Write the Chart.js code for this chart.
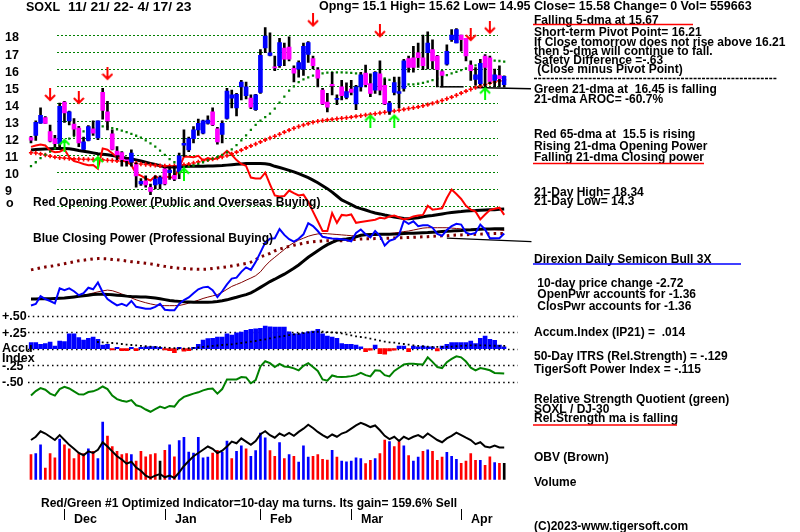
<!DOCTYPE html>
<html>
<head>
<meta charset="utf-8">
<script src="https://cdn.jsdelivr.net/npm/chart.js@4.4.0/dist/chart.umd.min.js"></script>
<style>
  html, body { margin: 0; padding: 0; background: #fff; }
  #wrap { width: 800px; height: 532px; }
</style>
</head>
<body>
<div id="wrap"><canvas id="chart" width="800" height="532"></canvas></div>
<script>
// SOXL 11/21/22 - 4/17/23, one entry per trading day (100 days)
const opens = [
  12.0, 12.13, 12.85, 13.17, 12.36, 11.94, 11.65, 14.08, 12.98, 12.79,
  12.56, 11.31, 11.84, 12.51, 11.98, 14.65, 13.51, 12.22, 11.22, 11.13,
  10.7, 10.56, 10.42, 9.3, 9.48, 9.1, 9.23, 9.29, 10.18, 9.95,
  9.8, 9.99, 11.56, 11.28, 11.94, 12.45, 12.26, 12.83, 13.51, 12.51,
  12.19, 13.13, 14.31, 13.74, 14.97, 14.46, 14.31, 13.64, 14.65, 17.24,
  16.81, 16.14, 16.2, 17.24, 17.3, 16.05, 16.0, 16.0, 16.86, 16.62,
  15.97, 14.78, 14.08, 15.12, 14.23, 14.97, 14.35, 14.84, 13.97, 14.97,
  15.77, 15.16, 14.78, 15.73, 15.06, 13.55, 14.65, 14.59, 14.88, 16.62,
  16.67, 16.96, 16.67, 16.96, 17.15, 16.77, 15.86, 16.3, 17.72, 17.53,
  18.0, 17.81, 16.24, 15.41, 15.16, 16.77, 16.67, 15.35, 15.63, 15.1
];
const closes = [
  11.85, 12.89, 13.3, 12.83, 11.79, 11.65, 13.83, 13.45, 13.51, 12.5,
  11.69, 11.75, 12.64, 12.26, 12.98, 13.59, 12.98, 11.31, 10.99, 10.71,
  10.65, 11.09, 9.76, 9.45, 9.23, 8.85, 9.57, 9.67, 9.29, 10.1,
  9.57, 10.94, 11.66, 11.94, 12.45, 12.83, 12.98, 13.02, 12.75, 11.75,
  12.83, 14.72, 14.5, 14.53, 15.25, 14.97, 13.78, 14.5, 16.81, 17.94,
  16.96, 16.07, 17.56, 16.58, 16.58, 15.77, 16.39, 17.34, 17.56, 16.2,
  15.48, 13.97, 13.78, 15.03, 14.3, 14.46, 14.69, 14.65, 14.97, 15.67,
  15.1, 14.59, 15.82, 14.78, 13.97, 14.02, 15.22, 14.69, 16.49, 16.1,
  16.1, 16.67, 16.2, 17.53, 16.49, 15.97, 15.63, 17.05, 18.0, 18.32,
  17.72, 16.77, 15.92, 15.67, 16.35, 16.1, 15.29, 15.67, 15.44, 15.58
];
const highs = [
  12.07, 12.98, 13.74, 13.23, 12.73, 12.13, 14.02, 14.12, 13.55, 13.11,
  12.66, 12.03, 12.7, 12.98, 12.98, 14.88, 14.12, 12.45, 11.47, 11.18,
  10.75, 11.28, 10.52, 9.6, 9.76, 9.29, 9.76, 9.76, 10.23, 10.3,
  10.33, 11.1, 12.45, 12.03, 12.64, 13.08, 13.02, 13.27, 13.74, 12.6,
  12.98, 14.88, 14.78, 14.59, 15.35, 15.25, 14.5, 14.53, 17.15, 18.44,
  18.13, 16.77, 17.8, 17.53, 17.9, 16.2, 16.49, 17.53, 17.62, 16.77,
  16.1, 14.88, 14.59, 15.82, 14.5, 15.35, 15.2, 15.35, 15.06, 15.82,
  16.24, 15.73, 15.86, 16.49, 15.44, 14.12, 15.54, 15.54, 16.58, 16.77,
  17.34, 17.53, 18.0, 18.19, 17.72, 16.81, 15.92, 17.43, 18.32, 18.38,
  18.0, 17.81, 16.49, 16.1, 16.58, 16.86, 16.77, 16.01, 16.2, 15.62
];
const lows = [
  11.69, 11.84, 12.83, 12.83, 11.75, 11.47, 11.47, 12.89, 12.75, 12.13,
  11.47, 11.28, 11.81, 12.13, 11.88, 13.08, 12.45, 11.28, 10.71, 10.33,
  10.33, 10.33, 9.1, 9.2, 9.1, 8.66, 9.0, 9.0, 9.23, 9.55,
  9.48, 9.6, 10.9, 11.18, 11.69, 12.13, 12.22, 12.79, 12.7, 11.62,
  11.69, 13.08, 13.74, 13.27, 14.21, 14.27, 13.7, 13.59, 14.59, 16.96,
  16.77, 15.92, 16.1, 16.2, 16.49, 15.25, 15.54, 15.63, 16.39, 16.01,
  14.97, 13.93, 13.51, 14.5, 13.93, 14.21, 14.27, 14.5, 13.64, 14.72,
  14.97, 14.4, 14.59, 14.5, 13.93, 13.36, 14.5, 13.74, 14.72, 15.82,
  15.82, 16.1, 15.97, 16.01, 16.01, 14.97, 14.97, 16.24, 17.62, 17.53,
  17.05, 16.49, 15.35, 15.06, 15.06, 14.97, 15.16, 14.97, 14.97, 14.95
];
const ma21 = [
  10.33, 10.56, 10.8, 11.0, 11.18, 11.37, 11.56, 11.75, 11.94, 12.09,
  12.22, 12.36, 12.47, 12.56, 12.62, 12.66, 12.64, 12.56, 12.49, 12.41,
  12.32, 12.22, 12.11, 12.0, 11.84, 11.66, 11.47, 11.24, 10.99, 10.75,
  10.56, 10.39, 10.29, 10.29, 10.37, 10.46, 10.56, 10.67, 10.77, 10.86,
  10.99, 11.14, 11.31, 11.56, 11.84, 12.13, 12.45, 12.75, 13.0, 13.2,
  13.4, 13.7, 14.05, 14.4, 14.75, 15.0, 15.25, 15.4, 15.52, 15.62,
  15.7, 15.76, 15.8, 15.82, 15.82, 15.82, 15.8, 15.78, 15.76, 15.72,
  15.68, 15.63, 15.58, 15.52, 15.46, 15.38, 15.3, 15.22, 15.15, 15.12,
  15.12, 15.15, 15.2, 15.28, 15.36, 15.45, 15.55, 15.65, 15.75, 15.85,
  15.95, 16.05, 16.15, 16.22, 16.3, 16.38, 16.45, 16.5, 16.48, 16.45
];
const ma65 = [
  11.12, 11.1, 11.05, 10.98, 10.92, 10.86, 10.82, 10.8, 10.78, 10.76,
  10.75, 10.74, 10.73, 10.72, 10.71, 10.7, 10.68, 10.66, 10.64, 10.62,
  10.6, 10.57, 10.5, 10.46, 10.43, 10.4, 10.38, 10.36, 10.35, 10.35,
  10.36, 10.38, 10.41, 10.45, 10.52, 10.58, 10.65, 10.7, 10.75, 10.8,
  10.87, 10.95, 11.05, 11.15, 11.27, 11.4, 11.52, 11.63, 11.75, 11.87,
  11.98, 12.08, 12.2, 12.32, 12.44, 12.55, 12.65, 12.74, 12.82, 12.9,
  12.96, 13.0, 13.04, 13.07, 13.1, 13.13, 13.16, 13.2, 13.24, 13.28,
  13.32, 13.36, 13.4, 13.44, 13.48, 13.52, 13.56, 13.6, 13.65, 13.7,
  13.75, 13.8, 13.86, 13.93, 14.0, 14.08, 14.17, 14.27, 14.37, 14.48,
  14.6, 14.72, 14.83, 14.93, 15.02, 15.1, 15.18, 15.25, 15.32, 15.38
];
const sellArrowDay = [4, 10, 16, 59, 73, 92, 96];
const sellArrowAt = [14.49, 14.32, 15.73, 18.85, 18.22, 18.0, 18.43];
const buyArrowDay = [7, 14, 32, 71, 76, 95];
const buyArrowAt = [11.58, 10.57, 9.9, 13.0, 13.0, 14.59];
const supportDays = [[85.5, 90.5], [92.5, 104.6]];
const supportLevels = [[14.97, 14.97], [14.93, 14.86]];

// opening / closing power panel (unlabelled units)
const openPower = [
  88.3, 89, 89.5, 89, 86.5, 85.5, 85.8, 87, 83, 81,
  80.3, 79.5, 78.8, 79, 77, 87.5, 86.8, 85, 83, 81.7,
  80.5, 79, 74.5, 73.5, 72, 71, 73.3, 71.7, 73, 72.7,
  72.5, 77.5, 83.3, 83.2, 83, 83.7, 81.3, 82.5, 81.8, 82.5,
  84, 86.3, 84.2, 81.5, 79.5, 78.5, 72.5, 72, 72, 75,
  69, 63.3, 62.8, 63, 65.8, 64.5, 63.3, 63.7, 60, 55,
  50, 45, 45, 54.2, 49.2, 53.3, 53, 53.5, 49.2, 49.6,
  50, 50.4, 50.8, 51.8, 51.5, 52.5, 53, 52, 51, 51.5,
  52.5, 53, 53.3, 58, 56, 56.3, 56.7, 62, 66.3, 64,
  61.5, 58, 56, 55, 51, 53.5, 55.8, 56.5, 57, 53.3
];
const closePower = [
  6.7, 7.5, 11.5, 10, 9, 7.8, 15.5, 14.5, 15.5, 14,
  12, 13, 15.8, 15, 18.5, 13.5, 10, 8.3, 6.7, 7.5,
  6.5, 9, 6, 5.5, 5, 5, 6, 7.5, 4.5, 4.2,
  4.2, 7.5, 9.5, 10.8, 13, 15, 16, 16.3, 14.5, 11,
  14, 17.5, 20.5, 21, 24, 26.3, 25, 29, 34, 39,
  41, 41.3, 46, 43, 40.8, 39.5, 41, 43.3, 49, 47.5,
  45, 42, 41.5, 41.2, 41, 40.8, 40.4, 39.7, 44, 45.8,
  43.3, 41.7, 45, 42.5, 37.5, 40, 40.8, 43, 50.3, 48.7,
  50, 47.5, 48, 48, 46.7, 43.5, 42.5, 45.5, 47.5, 48.7,
  48.3, 44.2, 43.3, 44, 48.3, 45.8, 41.3, 41.3, 41.3, 43.7
];
const openPowerMa = [
  86.7, 86.9, 87.1, 87.2, 87.3, 87.4, 87.5, 87.5, 87.3, 86.9,
  86.4, 86, 85.6, 85.2, 84.8, 84.5, 84.2, 83.9, 83.5, 83,
  82.5, 82.1, 81.6, 81, 80.4, 79.8, 79.2, 78.6, 78.1, 78,
  78, 78, 78.2, 78.3, 78.3, 78.3, 78.3, 78.4, 78.5, 78.6,
  78.7, 78.9, 79.1, 79.3, 79.5, 79.7, 79.7, 79.7, 79.7, 79.6,
  79.2, 78.3, 77.7, 77, 76.2, 75.4, 74.5, 73.5, 72.5, 71.2,
  69.8, 68.3, 66.8, 65, 63, 61, 59.8, 58.6, 57.3, 56.5,
  55.8, 55, 54.3, 53.8, 53.2, 52.7, 52.2, 51.8, 51.4, 51.3,
  51.5, 51.8, 52.3, 52.7, 53, 53.4, 53.8, 54.2, 54.5, 54.8,
  55, 55.3, 55.4, 55.5, 55.7, 55.8, 55.9, 56, 56.2, 56.3
];
const closePowerMa = [
  10, 10, 10.1, 10.1, 10.2, 10.3, 10.4, 10.5, 10.8, 11.1,
  11.4, 11.7, 12, 12.3, 12.5, 12.5, 12.4, 12.2, 12, 11.8,
  11.5, 11.3, 11.2, 11.1, 11, 10.8, 10.5, 10.1, 9.7, 9.3,
  9, 8.8, 8.6, 8.5, 8.4, 8.3, 8.3, 8.4, 8.5, 8.7,
  9.1, 9.6, 10.3, 10.9, 11.6, 12.3, 13.2, 14.5, 16, 17.5,
  19, 20.2, 21.5, 22.8, 24.3, 25.8, 27.5, 29.5, 31.5, 33.2,
  34.9, 36.5, 38, 39.2, 40.2, 40.6, 40.9, 41.3, 42, 42.8,
  43.1, 43.2, 43.2, 43.3, 43.3, 43.3, 43.4, 43.5, 43.7, 43.8,
  43.9, 44, 44.1, 44.2, 44.4, 44.5, 44.7, 44.9, 45, 45.2,
  45.3, 45.5, 45.6, 45.8, 45.9, 46, 46.1, 46.2, 46.2, 46.2
];
const closePowerMa21 = [
  9.7, 9.8, 9.9, 10, 10.1, 10.3, 10.5, 10.7, 11, 11.2,
  11.5, 11.9, 12.5, 13.1, 13.7, 14.2, 14.6, 14.3, 13.5, 12.6,
  11.6, 10.6, 9.6, 8.8, 8.1, 7.5, 7, 6.7, 6.6, 6.6,
  6.6, 6.7, 7.2, 7.9, 8.6, 9.4, 10.3, 11, 11.6, 12.3,
  13.5, 15, 16.5, 17.5, 18.5, 19.7, 20.8, 22, 24, 27,
  29.5, 31.5, 33.5, 35.5, 37.5, 39, 40.3, 41.3, 42.3, 43,
  43.5, 43.7, 43.6, 43.4, 43.2, 43, 42.8, 42.6, 42.5, 42.6,
  42.8, 43, 43.2, 43.4, 43.6, 43.7, 44, 44.3, 44.7, 45,
  45.5, 46, 46.5, 46.7, 46.7, 46.7, 46.7, 46.7, 46.5, 46.3,
  46.1, 45.9, 45.8, 45.8, 45.8, 45.8, 45.7, 45.6, 45.5, 45.3
];
const closePowerMa65 = [
  25, 25.5, 26, 26.5, 26.8, 27.2, 27.7, 28.2, 28.7, 29.2,
  29.7, 30, 30.3, 30.6, 30.8, 30.8, 30.7, 30.4, 30.2, 29.9,
  29.6, 29.2, 29, 28.7, 28.4, 28.1, 27.7, 27.2, 26.8, 26.4,
  26.1, 25.9, 25.7, 25.5, 25.4, 25.3, 25.3, 25.4, 25.7, 26,
  26.3, 26.6, 27, 27.4, 27.8, 28.3, 29, 30.2, 31.7, 32.5,
  33.5, 34.8, 35.7, 36.4, 37.1, 37.7, 38.2, 38.7, 39.2, 39.5,
  39.7, 39.9, 40, 40, 40, 40, 40.2, 40.5, 40.7, 40.9,
  41, 41, 41.1, 41.1, 41.2, 41.3, 41.4, 41.5, 41.6, 41.7,
  41.8, 41.9, 42, 42.1, 42.3, 42.4, 42.5, 42.6, 42.8, 42.9,
  43, 43.1, 43.2, 43.3, 43.4, 43.5, 43.6, 43.7, 43.7, 43.7
];
const powerTrendDays = [87, 104.7];
const powerTrendLevels = [41.3, 39.5];

// accumulation index (IP21) and its moving average
const accum = [
  0.09, 0.09, 0.065, 0.075, 0.1, 0.04, 0.115, 0.105, 0.225, 0.225,
  0.165, 0.13, 0.155, 0.175, 0.14, 0.055, 0.065, -0.02, 0.02, -0.03,
  -0.03, 0.02, -0.03, 0.02, 0.025, 0.03, 0.03, 0.02, -0.02, -0.03,
  -0.06, 0.02, -0.04, -0.03, 0.02, 0.065, 0.13, 0.15, 0.155, 0.175,
  0.175, 0.225, 0.205, 0.24, 0.25, 0.275, 0.29, 0.3, 0.305, 0.34,
  0.33, 0.325, 0.325, 0.325, 0.255, 0.225, 0.225, 0.24, 0.255, 0.265,
  0.29, 0.225, 0.19, 0.175, 0.155, 0.075, 0.065, 0.065, 0.055, 0.025,
  -0.045, -0.025, 0.055, -0.075, -0.085, -0.035, -0.025, 0.04, 0.04, -0.045,
  0.04, 0.025, 0.04, 0.025, 0.025, -0.035, 0.04, 0.065, 0.09, 0.09,
  0.09, 0.09, 0.115, 0.075, 0.155, 0.19, 0.14, 0.125, 0.055, 0.025
];
const accumMa = [
  null, null, null, null, null, null, null, null, null, null,
  null, null, null, null, 0.1, 0.095, 0.09, 0.085, 0.08, 0.07,
  0.06, 0.055, 0.048, 0.042, 0.036, 0.03, 0.025, 0.02, 0.015, 0.01,
  0.006, 0.003, 0, 0.005, 0.01, 0.016, 0.025, 0.032, 0.04, 0.047,
  0.055, 0.06, 0.065, 0.075, 0.085, 0.095, 0.105, 0.115, 0.13, 0.14,
  0.155, 0.17, 0.18, 0.19, 0.205, 0.215, 0.225, 0.235, 0.245, 0.25,
  0.255, 0.255, 0.25, 0.245, 0.24, 0.23, 0.215, 0.2, 0.185, 0.175,
  0.165, 0.15, 0.135, 0.12, 0.105, 0.095, 0.09, 0.08, 0.07, 0.06,
  0.05, 0.04, 0.035, 0.03, 0.027, 0.025, 0.025, 0.025, 0.03, 0.035,
  0.04, 0.045, 0.048, 0.05, 0.05, 0.048, 0.045, 0.043, 0.04, 0.04
];
const accumTicks = [0.5, 0.25, -0.25, -0.5];
const accumTickText = ['+.50', '+.25', '-.25', '-.50'];

// relative strength quotient SOXL / DJ-30
const relStrength = [
  1.32, 1.46, 1.55, 1.5, 1.38, 1.32, 1.52, 1.59, 1.54, 1.45,
  1.36, 1.35, 1.43, 1.45, 1.51, 1.6, 1.52, 1.32, 1.21, 1.16,
  1.13, 1.18, 1.02, 0.98, 0.89, 0.82, 0.9, 0.98, 0.93, 1.0,
  0.98, 1.17, 1.28, 1.33, 1.38, 1.42, 1.48, 1.52, 1.54, 1.38,
  1.52, 1.82, 1.82, 1.82, 1.89, 1.88, 1.7, 1.8, 2.22, 2.38,
  2.32, 2.2, 2.3, 2.22, 2.2, 2.16, 2.1, 2.24, 2.32, 2.2,
  2.08, 1.82, 1.78, 1.94, 1.9, 1.89, 1.9, 1.92, 1.95, 2.02,
  1.95, 1.91, 2.1, 2.09, 1.95, 1.91, 2.08, 2.18, 2.28, 2.3,
  2.3, 2.29, 2.28, 2.5, 2.36, 2.2, 2.17, 2.35, 2.45, 2.53,
  2.5, 2.37, 2.18, 2.1, 2.17, 2.14, 2.1, 2.02, 2.01, 2.0
];

// on-balance volume and volume (thousands)
const obv = [
  1366, 1478, 1669, 1590, 1478, 1366, 1534, 1366, 1198, 1064,
  918, 840, 974, 918, 1030, 1288, 1142, 974, 806, 694,
  549, 616, 414, 302, 134, 56, 134, 190, 78, 134,
  56, 246, 470, 638, 806, 918, 1030, 1142, 1064, 918,
  997, 1142, 1310, 1254, 1422, 1310, 1198, 1333, 1568, 1669,
  1534, 1445, 1590, 1512, 1613, 1512, 1646, 1758, 1893, 1781,
  1646, 1534, 1445, 1557, 1478, 1590, 1646, 1758, 1870, 1960,
  1893, 1814, 1870, 1702, 1512, 1400, 1478, 1333, 1478, 1400,
  1478, 1534, 1445, 1590, 1478, 1366, 1288, 1422, 1512, 1624,
  1534, 1445, 1366, 1221, 1288, 1142, 1109, 1176, 1109, 1109
];
const volume = [
  862, 896, 1198, 392, 896, 750, 1400, 1198, 1064, 728,
  896, 896, 1064, 974, 728, 1982, 1501, 1142, 974, 862,
  896, 862, 638, 974, 784, 862, 896, 638, 1008, 1198,
  784, 1344, 1456, 952, 918, 1456, 750, 773, 918, 1008,
  952, 1333, 728, 974, 1165, 1064, 806, 997, 1602, 1445,
  997, 806, 1277, 728, 862, 806, 605, 1165, 773, 806,
  862, 694, 672, 1008, 773, 638, 616, 638, 750, 728,
  549, 661, 728, 896, 1366, 1310, 1142, 1310, 1165, 829,
  638, 773, 974, 1030, 974, 661, 773, 941, 806, 694,
  560, 638, 896, 661, 661, 493, 784, 582, 560, 560
];
const volumeSide = [
  'r', 'b', 'b', 'r', 'r', 'r', 'b', 'r', 'r', 'r',
  'r', 'r', 'b', 'r', 'b', 'b', 'r', 'r', 'r', 'r',
  'r', 'b', 'r', 'r', 'r', 'r', 'r', 'k', 'r', 'b',
  'r', 'b', 'b', 'b', 'b', 'b', 'b', 'b', 'r', 'r',
  'b', 'b', 'r', 'b', 'b', 'r', 'b', 'b', 'b', 'b',
  'r', 'r', 'b', 'r', 'b', 'r', 'b', 'b', 'b', 'r',
  'r', 'r', 'r', 'b', 'r', 'b', 'b', 'b', 'b', 'b',
  'r', 'r', 'b', 'r', 'r', 'b', 'r', 'r', 'b', 'r',
  'b', 'b', 'r', 'b', 'r', 'r', 'r', 'b', 'b', 'b',
  'r', 'r', 'r', 'r', 'b', 'r', 'r', 'b', 'r', 'k'
];

const priceTicks = [9, 10, 11, 12, 13, 14, 15, 16, 17, 18];
const priceGrid = [8, 9, 10, 11, 12, 13, 14, 15, 16, 17, 18];
const monthNames = ['Dec', 'Jan', 'Feb', 'Mar', 'Apr'];
const monthStartDay = [7, 28, 48, 67, 90];

const FAMILY = '"Liberation Sans", Arial, sans-serif';
const sideColors = { r: '#ff0000', b: '#0000ff', k: '#000000' };

// [text, x, baseline, size, horizontal stretch]
const notes = [
  ['SOXL', 26, 11, 12.5, 1],
  ['11/ 21/ 22- 4/ 17/ 23', 68, 11, 12.5, 1.11],
  ['Opng= 15.1 High= 15.62 Low= 14.95 Close= 15.58 Change= 0 Vol= 559663', 319, 10, 12.5, 1],
  ['Falling 5-dma at 15.67', 534, 23.5],
  ['Short-term Pivot Point= 16.21', 534, 36],
  ['If Close tomorrow does not rise above 16.21', 534, 46],
  ['then 5-dma will continue to fall.', 534, 55],
  ['Safety Difference =-.63', 534, 64],
  [' (Close minus Pivot Point)', 534, 73],
  ['Green 21-dma at  16.45 is falling', 534, 92.5],
  ['21-dma AROC= -60.7%', 534, 102.5],
  ['Red 65-dma at  15.5 is rising', 534, 138],
  ['Rising 21-dma Opening Power', 534, 150],
  ['Falling 21-dma Closing power', 534, 161],
  ['21-Day High= 18.34', 534, 196],
  ['21-Day Low= 14.3', 534, 205],
  ['Direxion Daily Semicon Bull 3X', 534, 263],
  [' 10-day price change -2.72', 534, 286.5],
  [' OpenPwr accounts for -1.36', 534, 297.5],
  [' ClosPwr accounts for -1.36', 534, 310],
  ['Accum.Index (IP21) =  .014', 534, 336],
  ['50-Day ITRS (Rel.Strength) = -.129', 534, 360],
  ['TigerSoft Power Index = -.115', 534, 373],
  ['Relative Strength Quotient (green)', 534, 403],
  ['SOXL / DJ-30', 534, 412.5],
  ['Rel.Strength ma is falling', 534, 421.5],
  ['OBV (Brown)', 534, 460.5],
  ['Volume', 534, 486],
  ['(C)2023-www.tigersoft.com', 534, 530],
  ['Red Opening Power (Public and Overseas Buying)', 33, 206],
  ['Blue Closing Power (Professional Buying)', 33, 241.5],
  ['Red/Green #1 Optimized Indicator=10-day ma turns. Its gain= 159.6% Sell', 41, 506.5],
  ['o', 6, 206.5, 12.5, 1],
  ['Accu', 2, 351.5, 12.5, 1],
  ['Index', 2, 361.5, 12.5, 1]
];
const underlines = [
  [533, 693, 24.5, '#ff0000'],
  [533, 704, 163.5, '#ff0000'],
  [533, 741, 264, '#0000ff'],
  [533, 677, 425, '#ff0000']
];

function series(arr) {
  return arr.map((v, i) => ({ x: i, y: v }));
}

function arrowSprite(color, up) {
  const c = document.createElement('canvas');
  c.width = 12;
  c.height = 14;
  const g = c.getContext('2d');
  g.strokeStyle = color;
  g.lineWidth = 2;
  g.beginPath();
  if (up) {
    g.moveTo(6, 14); g.lineTo(6, 2);
    g.moveTo(1, 7); g.lineTo(6, 2); g.lineTo(11, 7);
  } else {
    g.moveTo(6, 0); g.lineTo(6, 12);
    g.moveTo(1, 7); g.lineTo(6, 12); g.lineTo(11, 7);
  }
  g.stroke();
  return c;
}

function lineSet(arr, axis, color, width, order, extra = {}) {
  return Object.assign({
    type: 'line', data: series(arr), yAxisID: axis, borderColor: color,
    borderWidth: width, pointRadius: 0, tension: 0, order
  }, extra);
}

function segmentSet(days, levels, axis, width, order) {
  return {
    type: 'line', data: days.map((d, k) => ({ x: d, y: levels[k] })), yAxisID: axis,
    borderColor: '#000', borderWidth: width, pointRadius: 0, clip: false, order
  };
}

function drawNote(ctx, text, x, y, size = 12, sx = 1) {
  ctx.save();
  ctx.font = `bold ${size}px ${FAMILY}`;
  ctx.translate(x, y);
  ctx.scale(sx, 1);
  ctx.fillText(text, 0, 0);
  ctx.restore();
}

const tigerDecor = {
  id: 'tigerDecor',
  beforeDatasetsDraw(chart) {
    const { ctx, scales } = chart;
    ctx.save();
    ctx.strokeStyle = '#008000';
    ctx.lineWidth = 1;
    ctx.setLineDash([2, 2]);
    priceGrid.forEach(v => {
      const y = Math.round(scales.yP.getPixelForValue(v)) + 0.5;
      ctx.beginPath(); ctx.moveTo(57, y); ctx.lineTo(498, y); ctx.stroke();
    });
    ctx.strokeStyle = '#000';
    ctx.lineWidth = 1.5;
    ctx.setLineDash([1.5, 3.3]);
    [...accumTicks, 0].forEach(v => {
      const y = Math.round(scales.yA.getPixelForValue(v)) + 0.5;
      ctx.beginPath(); ctx.moveTo(28, y); ctx.lineTo(518, y); ctx.stroke();
    });
    ctx.restore();
  },
  afterDatasetsDraw(chart) {
    const { ctx, scales } = chart;
    ctx.save();
    ctx.fillStyle = '#000';
    ctx.textBaseline = 'alphabetic';
    notes.forEach(([t, x, y, size, sx]) => drawNote(ctx, t, x, y, size, sx));
    accumTicks.forEach((v, k) => drawNote(ctx, accumTickText[k], 2, scales.yA.getPixelForValue(v) + 4.5, 12.5));
    monthStartDay.forEach((d, k) => {
      const x = Math.round(scales.x.getPixelForValue(d)) + 0.5;
      ctx.strokeStyle = '#000';
      ctx.lineWidth = 1;
      ctx.beginPath(); ctx.moveTo(x, 509); ctx.lineTo(x, 520); ctx.stroke();
      drawNote(ctx, monthNames[k], x + 9.5, 523, 12.5);
    });
    ctx.lineWidth = 1.4;
    ctx.setLineDash([3, 1.2]);
    ctx.beginPath(); ctx.moveTo(534, 78.5); ctx.lineTo(777, 78.5); ctx.stroke();
    ctx.setLineDash([]);
    underlines.forEach(([x0, x1, y, c]) => {
      ctx.strokeStyle = c;
      ctx.beginPath(); ctx.moveTo(x0, y); ctx.lineTo(x1, y); ctx.stroke();
    });
    ctx.restore();
  }
};

const sellSprite = arrowSprite('#ff0000', false);
const buySprite = arrowSprite('#00ff00', true);

const datasets = [
  {
    type: 'line', yAxisID: 'yP', showLine: false, order: 0,
    data: sellArrowDay.map((d, k) => ({ x: d, y: sellArrowAt[k] })),
    pointStyle: sellSprite, pointRadius: 6
  },
  {
    type: 'line', yAxisID: 'yP', showLine: false, order: 0,
    data: buyArrowDay.map((d, k) => ({ x: d, y: buyArrowAt[k] })),
    pointStyle: buySprite, pointRadius: 6
  },
  {
    type: 'bar', yAxisID: 'yP', order: 1, grouped: false, barThickness: 4,
    data: opens.map((o, i) => ({ x: i, y: [o, closes[i]] })),
    backgroundColor: closes.map((c, i) => c >= opens[i] ? '#0000ff' : '#ff00ff')
  },
  {
    type: 'bar', yAxisID: 'yP', order: 2, grouped: false, barThickness: 2,
    data: lows.map((l, i) => ({ x: i, y: [l, highs[i]] })),
    backgroundColor: '#000'
  },
  lineSet(ma21, 'yP', '#008000', 0, 3, {
    showLine: false, pointStyle: 'rect', pointRadius: 1.6, pointBorderWidth: 0, pointBackgroundColor: '#008000'
  }),
  lineSet(ma65, 'yP', '#ff0000', 0, 4, {
    showLine: false, pointStyle: 'cross', pointRadius: 2.2, pointBorderWidth: 1.6, pointBorderColor: '#ff0000'
  }),
  segmentSet(supportDays[0], supportLevels[0], 'yP', 1.5, 5),
  segmentSet(supportDays[1], supportLevels[1], 'yP', 1.5, 5),
  lineSet(openPower, 'yW', '#ff0000', 2, 6),
  lineSet(closePower, 'yW', '#0000ff', 2, 7),
  lineSet(openPowerMa, 'yW', '#000', 3, 8),
  lineSet(closePowerMa, 'yW', '#000', 3, 9),
  lineSet(closePowerMa21, 'yW', '#800000', 1, 10),
  lineSet(closePowerMa65, 'yW', '#800000', 3, 11, { borderDash: [2.5, 4.2] }),
  segmentSet(powerTrendDays, powerTrendLevels, 'yW', 1.3, 12),
  lineSet(accumMa, 'yA', '#000', 0, 13, {
    showLine: false, pointStyle: 'rect', pointRadius: 1.3, pointBorderWidth: 0, pointBackgroundColor: '#000'
  }),
  {
    type: 'bar', yAxisID: 'yA', order: 14, grouped: false, barThickness: 4,
    data: series(accum),
    backgroundColor: accum.map(v => v >= 0 ? '#0000ff' : '#ff0000')
  },
  lineSet(relStrength, 'yR', '#008000', 2, 15),
  lineSet(obv, 'yV', '#000', 2, 16),
  {
    type: 'bar', yAxisID: 'yV', order: 17, grouped: false, barThickness: 2,
    data: series(volume),
    backgroundColor: volumeSide.map(s => sideColors[s])
  }
];

new Chart(document.getElementById('chart'), {
  type: 'bar',
  data: { datasets },
  options: {
    responsive: false,
    animation: false,
    events: [],
    layout: { padding: { left: 5, right: 293.4, top: 0, bottom: 0 } },
    plugins: { legend: { display: false }, tooltip: { enabled: false } },
    scales: {
      x: { type: 'linear', min: -0.5, max: 99.5, offset: false, display: false },
      yP: {
        position: 'left', min: -10.619, max: 19.608, bounds: 'data',
        afterFit: s => { s.width = 23.6; },
        afterBuildTicks: s => { s.ticks = priceTicks.map(v => ({ value: v })); },
        grid: { display: false }, border: { display: false },
        ticks: {
          crossAlign: 'far', padding: 0, labelOffset: 3, color: '#000',
          font: { family: FAMILY, size: 12.5, weight: 'bold' },
          callback: v => String(v)
        }
      },
      yW: { display: false, min: -106, max: 160 },
      yA: { display: false, min: -2.662, max: 5.162 },
      yR: { display: false, min: -2.66, max: 13.3 },
      yV: { display: false, min: -1555, max: 16320 }
    }
  },
  plugins: [tigerDecor]
});
</script>
</body>
</html>
